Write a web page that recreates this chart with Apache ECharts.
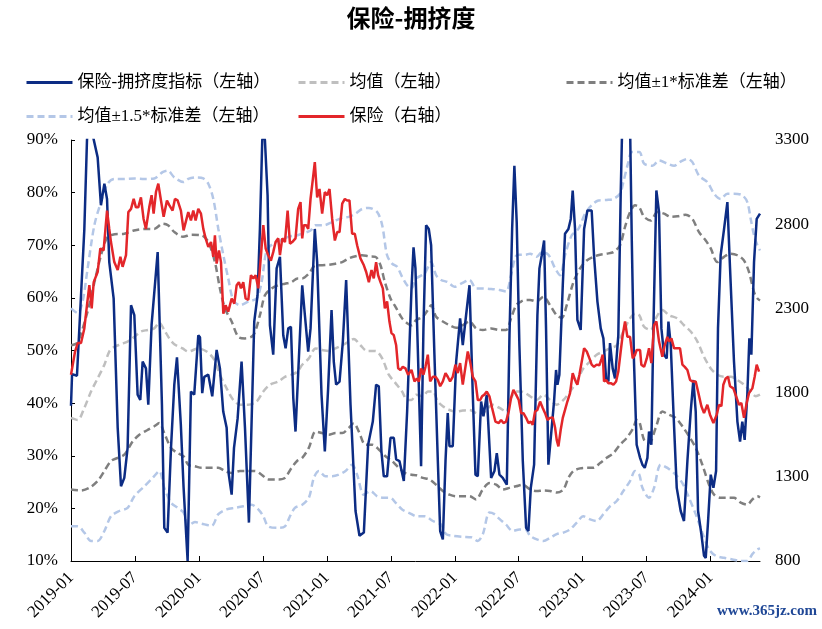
<!DOCTYPE html>
<html><head><meta charset="utf-8">
<script src="https://cdn.jsdelivr.net/npm/echarts@6/dist/echarts.min.js"></script>
<style>html,body{margin:0;padding:0;background:#fff}#c{width:822px;height:629px}</style>
</head><body><div id="c"></div>
<script>
// x values: months elapsed since 2019-01 (0 = start of Jan 2019)
const xTickLabels = ['2019-01','2019-07','2020-01','2020-07','2021-01','2021-07','2022-01','2022-07','2023-01','2023-07','2024-01'];
const leftTicks = [10,20,30,40,50,60,70,80,90];
const rightTicks = [800,1300,1800,2300,2800,3300];

// 保险-拥挤度指标 (%, left axis)
const crowding = [[0,39.5],[0.1,45.5],[0.56,45.2],[0.94,60.5],[1.25,73],[1.5,90],[1.72,96],[2.03,91],[2.5,86.7],[2.81,77.6],
[3.13,81.7],[3.38,78.8],[3.59,66.8],[4.0,59.9],[4.38,35.3],[4.69,24.2],[5.0,25.8],[5.31,31.5],[5.63,58.6],[5.94,56.7],
[6.25,41.6],[6.5,40.6],[6.72,47.9],[7.03,46.6],[7.25,39.7],[7.56,54.9],[8.13,68.7],[8.53,39.7],[8.75,16.3],[9.06,15.4],
[9.38,31.5],[9.69,43.5],[9.94,48.7],[10.3,36],[10.56,24],[10.94,10],[11.25,42.2],[11.56,41.6],[11.94,52.9],[12.1,52.5],
[12.31,41.9],[12.5,45],[12.88,45.4],[13.0,45.5],[13.25,41.3],[13.66,50.1],[13.97,46.6],[14.28,38.4],[14.6,35.3],[14.8,26.4],
[15.07,22.6],[15.29,31.5],[15.63,37.1],[16.0,47.9],[16.32,35.3],[16.69,17.3],[17.19,55.5],[17.5,60.5],[17.72,73.1],[17.94,90],
[18.07,91],[18.19,90],[18.44,79.5],[18.66,54.8],[18.97,49.2],[19.29,65.6],[19.6,67.8],[19.91,52.9],[20.13,50.4],[20.38,54.2],
[20.63,54.5],[20.85,41],[21.06,34.6],[21.69,62.4],[21.94,56.7],[22.25,49.8],[22.47,54.2],[22.87,73.1],[23.09,66.8],[23.5,41.6],
[23.81,30.8],[24.12,42.8],[24.44,57.7],[24.65,47.9],[24.87,43.5],[25.19,44.1],[25.5,51.7],[25.81,63.4],[26.22,39.7],[26.69,19.5],
[27.06,14.8],[27.47,15.4],[27.87,32.1],[28.31,36.5],[28.62,43.5],[28.87,43.2],[29.12,30.8],[29.34,26.1],[29.65,26.1],[29.97,33.4],
[30.28,33.4],[30.5,29.3],[30.81,29],[31.22,25.2],[31.53,38.4],[31.94,61.8],[32.13,69.6],[32.31,65.6],[32.53,50.4],[32.84,28],
[33.06,54.2],[33.31,73.8],[33.56,73.1],[33.78,70],[34.09,49.2],[34.41,29],[34.63,15.7],[34.88,14.1],[35.13,29],[35.34,38.1],
[35.5,31.8],[35.81,31.8],[36.13,47.9],[36.5,56.1],[36.75,51],[37.06,56.7],[37.38,62.4],[37.69,41.6],[37.94,26.4],[38.16,26.1],
[38.47,40.3],[38.69,37.5],[39.0,41.6],[39.41,25.8],[39.72,27.1],[39.94,30.5],[40.19,26.4],[40.5,25.8],[40.88,24.5],[41.13,52.9],
[41.38,73.1],[41.59,85.1],[41.81,74.3],[42.06,51],[42.38,29],[42.69,16.3],[42.91,15.7],[43.13,23.9],[43.44,28.3],[43.75,56.7],
[43.94,65.6],[44.16,68.1],[44.38,70.9],[44.56,54.2],[44.78,28.3],[45.09,35.3],[45.31,40.3],[45.5,46.3],[45.63,43.5],[45.81,45.4],
[46.13,62.4],[46.34,72.2],[46.66,73.1],[46.88,75],[47.06,80.4],[47.28,73.1],[47.5,55.8],[47.81,53.9],[48.13,73.1],[48.44,76.6],
[48.84,76.6],[49.06,68.1],[49.38,59.3],[49.69,54.2],[49.94,52.3],[50.19,44.7],[50.41,44.1],[50.56,51.4],[50.81,46.6],[51.03,44.7],
[51.34,52.9],[51.56,79.4],[51.75,97],[52.13,99],[52.44,93],[52.6,71.3],[52.81,47.9],[53.06,32.1],[53.38,29.6],[53.6,28.3],
[53.82,27.7],[54.07,29.6],[54.22,34.6],[54.44,32.1],[54.63,54.2],[54.91,80.4],[55.16,76.3],[55.38,54.2],[55.63,49.2],[55.88,48.5],
[56.04,55.5],[56.26,51],[56.51,38.4],[56.82,23.9],[57.19,19.5],[57.5,17.6],[57.82,29],[58.13,38.4],[58.38,44.4],[58.6,38.4],
[58.82,19.5],[59.13,15.1],[59.38,11],[59.54,10.6],[59.76,17.6],[60.01,26.4],[60.26,23.9],[60.51,27.1],[60.69,54.2],[60.94,68.1],
[61.26,73.1],[61.57,78.2],[61.82,65.6],[62.19,47.9],[62.51,36.5],[62.76,32.7],[62.97,36.5],[63.19,33],[63.44,41.6],[63.63,52.3],
[63.82,49.2],[64.07,66.8],[64.32,75],[64.63,76]];

// 保险 index (right axis)
const insurance = [[0,1906],[0.38,2044],[0.63,2094],[0.94,2094],[1.25,2181],[1.5,2319],[1.72,2438],[1.94,2300],[2.13,2456],[2.5,2516],
[2.75,2656],[3.06,2644],[3.38,2881],[3.59,2772],[3.75,2694],[4.06,2575],[4.38,2528],[4.63,2606],[4.84,2547],[5.16,2616],
[5.38,2872],[5.63,2891],[5.88,2950],[6.09,2900],[6.31,2900],[6.56,2959],[6.81,2831],[7.03,2772],[7.34,2900],[7.56,2972],
[7.75,2863],[7.97,2991],[8.19,3041],[8.44,2941],[8.69,2844],[9.0,2941],[9.22,2913],[9.53,2881],[9.75,2950],[10.0,2941],
[10.31,2881],[10.56,2763],[10.69,2753],[11.0,2872],[11.25,2822],[11.47,2881],[11.69,2822],[11.94,2891],[12.19,2863],[12.41,2772],
[12.63,2716],[12.88,2666],[13.13,2694],[13.35,2606],[13.5,2734],[13.66,2566],[13.88,2644],[14.07,2575],[14.29,2269],[14.5,2319],
[14.75,2281],[15.07,2359],[15.32,2328],[15.54,2438],[15.75,2456],[15.94,2419],[16.16,2456],[16.38,2359],[16.63,2350],[16.88,2497],
[17.1,2478],[17.32,2497],[17.57,2419],[17.82,2616],[18.04,2794],[18.26,2656],[18.5,2616],[18.75,2584],[18.97,2634],[19.19,2694],
[19.44,2716],[19.6,2616],[19.82,2716],[20.07,2694],[20.32,2881],[20.54,2684],[20.75,2694],[21.06,2716],[21.31,2891],[21.53,2931],
[21.69,2716],[21.84,2794],[22.06,2794],[22.25,2772],[22.47,2950],[22.69,3069],[22.87,3169],[23.09,2959],[23.31,3009],[23.56,2863],
[23.81,2991],[24.03,2972],[24.25,3009],[24.5,2831],[24.75,2703],[24.97,2753],[25.19,2753],[25.44,2922],[25.69,2950],[25.9,2941],
[26.12,2941],[26.37,2744],[26.62,2744],[26.84,2675],[27.15,2597],[27.47,2556],[27.69,2516],[27.94,2456],[28.19,2528],[28.4,2478],
[28.62,2575],[28.81,2497],[29.03,2456],[29.25,2419],[29.44,2300],[29.65,2341],[29.87,2222],[30.06,2153],[30.28,2141],[30.5,2081],
[30.69,1944],[30.9,1934],[31.12,1953],[31.37,1944],[31.62,1906],[31.94,1935],[32.22,1866],[32.44,1884],[32.63,1866],[32.84,1944],
[33.06,1906],[33.25,1953],[33.47,2025],[33.69,1866],[33.94,1894],[34.19,1894],[34.41,1875],[34.63,1838],[34.88,1866],[35.13,1916],
[35.34,1894],[35.56,1866],[35.81,1894],[36.06,1966],[36.28,1916],[36.5,1975],[36.75,1847],[37.0,1953],[37.22,2044],[37.44,1984],
[37.69,1894],[37.94,1866],[38.16,1756],[38.38,1756],[38.56,1778],[38.78,1788],[39.0,1806],[39.25,1778],[39.5,1709],[39.81,1628],
[40.13,1619],[40.34,1638],[40.56,1619],[40.81,1628],[41.06,1688],[41.28,1769],[41.5,1816],[41.75,1788],[42.0,1756],[42.22,1678],
[42.44,1678],[42.69,1650],[42.91,1619],[43.13,1628],[43.31,1609],[43.53,1688],[43.75,1697],[44.0,1747],[44.25,1709],[44.47,1678],
[44.69,1638],[44.94,1650],[45.19,1653],[45.41,1591],[45.56,1519],[45.72,1481],[45.94,1581],[46.13,1650],[46.34,1697],[46.56,1747],
[46.81,1797],[47.06,1916],[47.28,1875],[47.5,1847],[47.69,1906],[47.91,1984],[48.13,2063],[48.38,2044],[48.63,2003],[48.84,1966],
[49.06,1953],[49.31,1966],[49.56,1962],[49.78,2003],[49.88,2025],[50.0,1866],[50.19,1875],[50.41,1856],[50.63,1856],[50.88,1847],
[51.13,1866],[51.34,1925],[51.56,2044],[51.75,2141],[51.97,2222],[52.19,2131],[52.44,2131],[52.69,2003],[52.91,2025],[53.06,2053],
[53.38,2053],[53.5,1966],[53.76,1953],[54.01,2003],[54.22,2063],[54.44,1975],[54.69,2200],[54.91,2222],[55.16,2103],[55.47,2013],
[55.69,2081],[55.94,2131],[56.1,2103],[56.32,2122],[56.57,2063],[56.82,2063],[57.13,2063],[57.35,1966],[57.57,1953],[57.82,1934],
[58.07,1875],[58.29,1866],[58.6,1866],[58.82,1806],[59.13,1719],[59.38,1678],[59.69,1728],[59.94,1669],[60.26,1619],[60.57,1669],
[60.79,1728],[61.01,1719],[61.19,1847],[61.41,1884],[61.63,1894],[61.82,1838],[62.13,1825],[62.44,1769],[62.66,1728],[62.88,1738],
[63.13,1650],[63.38,1738],[63.6,1797],[63.91,1825],[64.13,1894],[64.32,1966],[64.54,1925]];

// 均值 (%)
const mean = [[0,37.2],[0.63,36.8],[1.25,39.1],[1.88,42.2],[2.5,44.7],[3.13,47.3],[3.59,49.8],[4.06,50.7],[4.69,51.2],[5.31,51.7],
[5.94,52.6],[6.56,53.6],[7.19,53.9],[7.81,54.2],[8.28,55.3],[8.75,53.9],[9.22,52.3],[9.69,51.2],[10.47,50.4],[11.0,49.8],
[11.94,50.4],[12.72,49.8],[13.35,48.5],[13.97,45.4],[14.6,42.8],[15.22,40.6],[15.85,39.7],[16.63,39.7],[17.41,40.3],[18.04,42.2],
[18.66,43.5],[19.44,44.1],[20.07,45],[20.69,45.4],[21.25,46],[21.69,47.3],[22.31,48.5],[22.94,50.4],[23.56,50.1],[24.19,49.9],
[24.81,50.4],[25.44,51],[26.06,51.7],[26.53,52.2],[27.15,51],[27.78,49.9],[28.56,49.9],[29.19,48.5],[29.81,45.4],[30.44,43.8],
[31.06,42.2],[31.53,40.6],[31.94,40.6],[32.38,41.6],[33.0,41.3],[33.47,42.2],[33.94,42.2],[34.41,40.3],[34.88,39.4],[35.5,38.7],
[36.13,38.4],[36.75,38.6],[37.38,38.7],[38.0,38.1],[38.47,37.8],[38.94,38.7],[39.56,39.7],[40.19,39.1],[40.81,38.4],[41.28,41],
[41.75,42.2],[42.22,42.2],[42.63,41.9],[43.06,41.3],[43.69,40.6],[44.31,41.6],[44.94,40.6],[45.56,39.7],[46.19,40.6],[46.81,42.2],
[47.44,44.1],[48.06,46.6],[48.69,47.9],[49.31,49.2],[49.94,49.8],[50.56,50.4],[51.19,51],[51.81,53.6],[52.44,56.1],[52.91,57],
[53.31,56.7],[53.76,54.5],[54.38,53.9],[54.85,56.1],[55.47,57.7],[56.1,56.7],[56.88,56.1],[57.5,54.8],[58.13,53.6],[58.76,51.7],
[59.38,48.8],[60.01,46.6],[60.63,45.4],[61.26,45],[61.88,45],[62.51,44.4],[63.13,43.5],[63.76,42.2],[64.23,41.3],[64.63,41.6]];

// 均值 ± 1*标准差 (%)
const upper1 = [[0,51],[0.6,51.5],[1.5,57],[2.2,63],[2.8,68],[3.4,71.5],[4.1,72.1],[5.0,72.2],[5.9,72.8],[6.9,73.1],
[7.8,73.1],[8.6,74.1],[9.1,73.8],[9.7,72.5],[10.5,71.6],[11.32,72],[12.25,71.9],[12.88,70.6],[13.5,66.8],[13.97,61.8],
[14.44,58],[15.07,55.5],[15.69,52.6],[16.32,52.3],[17.1,52.9],[17.72,56.7],[18.19,60.5],[18.82,61.8],[19.44,62.4],[20.07,62.7],
[20.69,63],[21.25,63.7],[21.69,63.7],[22.31,64.6],[22.94,66.2],[23.56,66.2],[24.19,66.3],[24.81,66.5],[25.44,66.8],[26.06,67.5],
[26.69,67.9],[27.31,68.1],[27.94,67.9],[28.56,67.8],[29.03,66.2],[29.44,63],[29.97,59.9],[30.44,58.3],[31.06,56.1],[31.53,55.2],
[31.94,54.8],[32.38,55.8],[33.0,56.4],[33.47,57.7],[33.78,58.6],[34.25,56.4],[34.88,55.5],[35.5,54.8],[36.13,54.3],[36.75,54.8],
[37.38,55.5],[38.0,54.2],[38.63,53.9],[39.41,54.2],[40.19,53.9],[40.81,53.9],[41.28,56.1],[41.75,58.6],[42.22,59.3],[42.63,59.6],
[43.06,59.6],[43.69,59.3],[44.31,60.2],[44.94,58.6],[45.56,56.7],[46.03,56.2],[46.5,58.6],[47.13,63],[47.75,65.6],[48.38,67.1],
[49.0,67.8],[49.63,68.2],[50.25,68.4],[50.88,68.7],[51.5,70],[51.97,73.5],[52.44,76.3],[52.91,77.6],[53.31,77.2],[53.76,75.4],
[54.38,74.7],[55.0,76.3],[55.63,76],[56.26,75.4],[56.88,75.5],[57.66,75.8],[58.29,75],[58.91,72.5],[59.54,70.9],[60.01,69.4],
[60.63,66.8],[61.26,67.8],[61.88,68.4],[62.51,68.1],[63.13,67.1],[63.6,64.9],[64.07,61.1],[64.38,59.9],[64.63,59.5]];
const lower1 = [[0,23.6],[0.94,23.4],[1.72,23.9],[2.5,25.2],[3.13,27.1],[3.75,29],[4.38,29.6],[5.0,30.2],[5.78,32.7],[6.41,34],
[7.19,34.9],[7.81,35.6],[8.28,36.2],[8.75,34.3],[9.38,31.5],[10.0,30.5],[10.56,29.9],[11.0,28.3],[11.63,28],[12.25,27.7],
[13.19,27.7],[13.82,27.7],[14.44,27.1],[15.07,26.7],[15.85,27.1],[16.63,27.1],[17.26,27.1],[17.88,26.4],[18.5,25.5],[19.44,25.5],
[20.07,25.8],[20.69,27.7],[21.25,29.1],[21.69,29.6],[22.31,31.5],[22.94,34.6],[23.56,34.3],[24.19,34],[24.81,34.3],[25.44,34.3],
[26.06,35.3],[26.53,36.2],[27.0,34.6],[27.62,32.1],[28.25,32.1],[28.87,31.2],[29.5,29.9],[30.12,29],[30.75,27.7],[31.37,26.7],
[31.94,26.4],[32.38,26.3],[33.0,25.8],[33.63,25.5],[34.25,24.5],[34.88,23.3],[35.5,22.6],[36.13,22.3],[36.75,22.3],[37.38,22.3],
[38.0,21.7],[38.63,23.6],[39.25,24.8],[39.88,24.5],[40.5,23.6],[41.13,23.9],[41.75,24.2],[42.38,24.5],[43.06,23.6],[43.69,23.3],
[44.31,23.4],[44.94,23.3],[45.56,23],[46.19,23.6],[46.66,25.8],[47.13,27.1],[47.75,27.6],[48.38,27.7],[49.0,27.7],[49.63,28.6],
[50.25,29.6],[50.88,30.5],[51.5,32.1],[52.13,33.4],[52.75,35.3],[53.06,36.8],[53.31,36.5],[53.76,33],[54.22,32.4],[54.85,35.3],
[55.47,38.4],[56.1,37.8],[56.72,37.2],[57.35,35.6],[57.97,33.7],[58.6,31.5],[59.22,28.3],[59.85,24.5],[60.32,22.6],[60.94,22],
[61.57,22],[62.19,22],[62.82,21.1],[63.44,20.7],[63.91,21.7],[64.38,22.3],[64.63,22.1]];

// 均值 ± 1.5*标准差 (%)
const upper15 = [[0,58],[0.63,57.1],[1.09,59.3],[1.56,65.6],[2.19,73.8],[2.81,78.2],[3.44,81.7],[4.06,82.6],[5.0,82.6],[5.94,82.7],
[6.88,82.6],[7.81,82.7],[8.59,83.9],[9.06,84.2],[9.69,82.9],[10.56,82],[11.0,82.6],[11.79,82.9],[12.41,82.7],[12.88,81.7],
[13.35,78.8],[13.82,73.1],[14.29,68.1],[14.75,63.7],[15.22,59.6],[15.85,58.6],[16.63,59.3],[17.41,59.9],[17.88,63],[18.35,69],
[18.97,70.3],[19.6,70.9],[20.38,71.6],[21.25,71.9],[21.69,72.2],[22.47,72.8],[22.94,73.8],[23.72,73.8],[24.5,74.4],[25.44,75.2],
[26.06,75.4],[26.69,76],[27.31,76.9],[27.94,77.1],[28.72,76.3],[29.19,73.8],[29.65,68.1],[30.12,66.5],[30.59,65.9],[31.06,64],
[31.53,62.4],[31.94,61.8],[32.38,63.7],[33.16,64.6],[33.78,66.8],[34.25,64.3],[34.72,63.4],[35.34,63],[35.97,62.1],[36.59,62.7],
[37.38,63.4],[38.0,61.8],[38.63,61.8],[39.41,61.7],[40.19,61.5],[40.81,61.2],[41.28,64.3],[41.69,67.8],[42.06,68.2],[42.63,68.2],
[43.06,68.4],[43.69,67.8],[44.16,68.7],[44.78,68.2],[45.41,65.6],[45.88,64.3],[46.34,68.1],[46.97,71.9],[47.6,73.1],[48.22,76],
[48.84,77.6],[49.47,78.5],[50.25,78.6],[50.88,78.8],[51.5,79.8],[51.81,82],[52.28,85.8],[52.6,87.7],[53.31,87.7],[53.76,85.5],
[54.54,85.1],[55.16,86.1],[55.94,85.5],[56.57,85.1],[57.19,85.9],[57.82,86.4],[58.29,85.8],[58.91,83.2],[59.69,82],[60.32,79.8],
[60.94,78.8],[61.57,79.8],[62.19,79.8],[62.97,79.5],[63.44,78.2],[63.76,75],[64.07,71.9],[64.38,70],[64.63,69]];
const lower15 = [[0,16.6],[0.63,16.6],[1.25,15.4],[1.88,13.8],[2.5,13.8],[3.13,15.7],[3.75,18.5],[4.53,19.5],[5.31,20.1],[5.94,22.3],
[6.88,24.2],[7.66,25.8],[8.28,27.1],[8.75,23.9],[9.38,21.1],[10.0,20.1],[10.56,19.2],[11.0,16.7],[11.63,17.4],[12.25,17.1],
[13.19,16.7],[13.82,18.9],[14.6,19.8],[15.38,20.1],[16.16,20.4],[16.94,20.7],[17.57,19.8],[18.04,18.5],[18.5,16.6],[19.44,16.3],
[20.07,16.6],[20.54,18.5],[21.0,20.1],[21.69,20.7],[22.31,22],[22.78,25.8],[23.25,27.1],[23.87,26.1],[24.5,26.1],[25.12,26.4],
[25.75,27.1],[26.37,28.3],[26.84,26.4],[27.47,22.6],[28.09,23.3],[28.72,22.3],[29.34,22],[29.97,22],[30.44,21.1],[31.06,19.8],
[31.94,18.9],[32.38,18.5],[33.16,18.5],[33.94,17.6],[34.72,16.9],[35.19,15.1],[35.81,14.8],[36.75,14.6],[37.53,14.5],[38.16,13.8],
[38.63,15.1],[39.25,19.2],[39.72,18.9],[40.19,18],[40.81,16.9],[41.44,15.7],[42.06,16],[42.63,16],[43.06,14.8],[43.69,14.1],
[44.31,13.8],[44.94,14.4],[45.56,15.1],[46.19,15.4],[46.81,16],[47.44,17.3],[48.06,18.5],[48.69,17.9],[49.31,17.6],[49.94,18.9],
[50.56,20.4],[51.19,21.4],[51.81,23.3],[52.44,25.2],[52.91,27.1],[53.31,26.4],[53.6,23.9],[54.22,22],[54.69,23.9],[55.32,28.3],
[55.94,27.7],[56.72,26.4],[57.35,24.8],[57.97,22],[58.6,18.9],[59.22,15.4],[59.85,12.2],[60.47,11],[61.26,10.6],[62.04,10.3],
[62.82,10],[63.44,10],[63.91,11.3],[64.38,12.2],[64.63,12.4]];

const NAME_IDX = '保险-拥挤度指标（左轴）';
const NAME_MEAN = '均值（左轴）';
const NAME_S1 = '均值±1*标准差（左轴）';
const NAME_S15 = '均值±1.5*标准差（左轴）';
const NAME_INS = '保险（右轴）';

const xTickVals = xTickLabels.map(s => (parseInt(s.slice(0,4)) - 2019) * 12 + parseInt(s.slice(5)) - 1);
const labelOf = {};
xTickVals.forEach((v, i) => { labelOf[v] = xTickLabels[i]; });

const SERIF = "'Liberation Serif','Times New Roman','Noto Sans CJK SC',serif";
const chart = echarts.init(document.getElementById('c'), null, {renderer: 'canvas'});

function dashed(name, data, color) {
  return {name, type: 'line', data, yAxisIndex: 0, symbol: 'none', showSymbol: false, smooth: 0.3,
    lineStyle: {color, width: 2.5, type: [7, 4]}, itemStyle: {color}, z: 2, silent: true};
}
function legendAt(name, left, top) {
  return {data: [name], left, top, itemWidth: 46, itemHeight: 14, padding: 0,
    itemStyle: {opacity: 0}, lineStyle: {width: 3},
    textStyle: {fontFamily: SERIF, fontSize: 17, color: '#000'}, selectedMode: false};
}

chart.setOption({
  animation: false,
  backgroundColor: '#fff',
  title: {text: '保险-拥挤度', left: 'center', top: 1,
    textStyle: {fontFamily: "'Noto Sans CJK SC',sans-serif", fontSize: 24, fontWeight: 'bold', color: '#000'}},
  legend: [
    legendAt(NAME_IDX, 25, 74),
    legendAt(NAME_MEAN, 297, 74),
    legendAt(NAME_S1, 565, 74),
    legendAt(NAME_S15, 25, 108),
    legendAt(NAME_INS, 297, 108)
  ],
  grid: {left: 71, right: 62, top: 140, bottom: 68, containLabel: false},
  xAxis: {
    type: 'value', min: 0, max: 64.63,
    axisLine: {onZero: false, lineStyle: {color: '#000', width: 1}},
    axisTick: {show: true, inside: true, length: 5, customValues: xTickVals, lineStyle: {color: '#000'}},
    axisLabel: {customValues: xTickVals, rotate: 45, margin: 14, color: '#000', fontFamily: SERIF, fontSize: 17,
      formatter: v => labelOf[Math.round(v)] || ''},
    splitLine: {show: false}
  },
  yAxis: [
    {type: 'value', min: 10, max: 90, interval: 10, position: 'left',
      axisLine: {show: true, lineStyle: {color: '#000', width: 1}},
      axisTick: {show: true, inside: true, length: 4, lineStyle: {color: '#000'}},
      axisLabel: {formatter: v => Math.round(v) + '%', color: '#000', fontFamily: SERIF, fontSize: 17, margin: 13, customValues: leftTicks},
      splitLine: {show: false}},
    {type: 'value', min: 800, max: 3300, interval: 500, position: 'right',
      axisLine: {show: false}, axisTick: {show: false},
      axisLabel: {color: '#000', fontFamily: SERIF, fontSize: 17, margin: 15, customValues: rightTicks,
        formatter: v => String(Math.round(v))},
      splitLine: {show: false}}
  ],
  series: [
    dashed(NAME_MEAN, mean, '#bfbfbf'),
    dashed(NAME_S1, upper1, '#7f7f7f'),
    dashed(NAME_S1, lower1, '#7f7f7f'),
    dashed(NAME_S15, upper15, '#b4c7e7'),
    dashed(NAME_S15, lower15, '#b4c7e7'),
    {name: NAME_IDX, type: 'line', data: crowding, yAxisIndex: 0, symbol: 'none', showSymbol: false,
      lineStyle: {color: '#0c2c84', width: 2.5}, itemStyle: {color: '#0c2c84'}, z: 3, silent: true},
    {name: NAME_INS, type: 'line', data: insurance, yAxisIndex: 1, symbol: 'none', showSymbol: false,
      lineStyle: {color: '#e3262a', width: 2.5}, itemStyle: {color: '#e3262a'}, z: 4, silent: true}
  ],
  graphic: [{type: 'text', left: 717, top: 604,
    style: {text: 'www.365jz.com', fill: '#1f4796', font: "bold 15px 'Liberation Serif', serif"}}]
});
</script></body></html>
